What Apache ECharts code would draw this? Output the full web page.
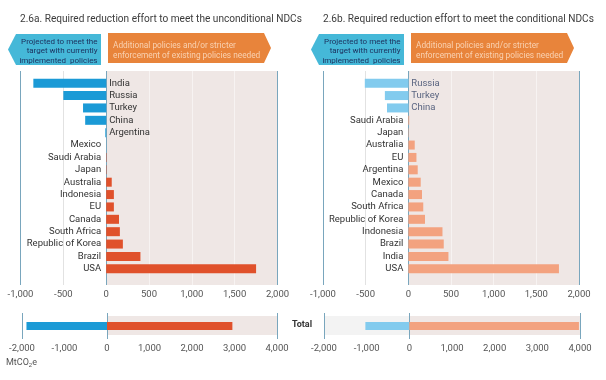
<!DOCTYPE html>
<html><head><meta charset="utf-8">
<script src="https://cdn.jsdelivr.net/npm/echarts@6/dist/echarts.min.js"></script>
<style>html,body{margin:0;padding:0;background:#fff}#c{width:606px;height:380px}</style>
</head><body><div id="c"></div>
<script>
// ---- data ----
const catsUncond = ['India','Russia','Turkey','China','Argentina','Mexico','Saudi Arabia','Japan','Australia','Indonesia','EU','Canada','South Africa','Republic of Korea','Brazil','USA'];
const valsUncond = [-850,-500,-270,-245,-10,0,5,5,65,90,90,150,160,195,400,1750];
const catsCond = ['Russia','Turkey','China','Saudi Arabia','Japan','Australia','EU','Argentina','Mexico','Canada','South Africa','Republic of Korea','Indonesia','Brazil','India','USA'];
const valsCond = [-510,-275,-250,10,5,75,95,110,145,160,175,195,400,415,470,1765];
const totalUncond = {neg: -1895, pos: 2950};
const totalCond = {neg: -1030, pos: 3975};
const mainTicks = {min: -1000, max: 2000, step: 500};
const totalTicks = {min: -2000, max: 4000, step: 1000};

const FONT = 'Roboto';
const fmt = v => v.toLocaleString('en-US');
const chart = echarts.init(document.getElementById('c'), null, {renderer: 'canvas'});

const panels = [
  {left: 20.5, width: 257, tLeft: 22, tWidth: 255, cats: catsUncond, vals: valsUncond, tot: totalUncond,
   neg: '#1b9ad6', pos: '#e0512b', negLabel: '#333', posLabel: '#333', totNegBg: null},
  {left: 323, width: 256, tLeft: 324, tWidth: 256, cats: catsCond, vals: valsCond, tot: totalCond,
   neg: '#82cbee', pos: '#f3a27f', negLabel: '#5a6580', posLabel: '#333', totNegBg: '#f3f3f3'}
];

const grid = [], xAxis = [], yAxis = [], series = [];
const lineBlue = '#79a6bd';
panels.forEach((p, k) => {
  const g0 = grid.length;
  grid.push({left: p.left, width: p.width, top: 71, height: 214});
  grid.push({left: p.left, width: p.width, top: 77, height: 198});
  grid.push({left: p.tLeft, width: p.tWidth, top: 313, height: 26});
  grid.push({left: p.tLeft, width: p.tWidth, top: 313, height: 26});

  const lab = {color: '#555', fontSize: 9.5, fontFamily: FONT, margin: 5, formatter: fmt};
  xAxis.push({gridIndex: g0, type: 'value', min: mainTicks.min, max: mainTicks.max, interval: mainTicks.step,
    axisLine: {show: false}, axisTick: {show: false}, splitLine: {show: false}, axisLabel: lab});
  xAxis.push({gridIndex: g0 + 1, type: 'value', min: mainTicks.min, max: mainTicks.max, show: false, splitLine: {show: false}});
  xAxis.push({gridIndex: g0 + 2, type: 'value', min: totalTicks.min, max: totalTicks.max, interval: totalTicks.step,
    axisLine: {show: false}, axisTick: {show: false}, splitLine: {show: false}, axisLabel: lab});
  xAxis.push({gridIndex: g0 + 3, type: 'value', min: totalTicks.min, max: totalTicks.max, show: false, splitLine: {show: false}});

  yAxis.push({gridIndex: g0, type: 'value', min: 0, max: 1, show: false});
  yAxis.push({gridIndex: g0 + 1, type: 'category', data: p.cats, inverse: true, show: false});
  yAxis.push({gridIndex: g0 + 2, type: 'value', min: 0, max: 1, show: false});
  yAxis.push({gridIndex: g0 + 3, type: 'category', data: ['Total'], show: false});

  const ax = xAxis.length - 4, ay = yAxis.length - 4;
  const vline = (x, c) => ({xAxis: x, lineStyle: {color: c, width: 1, type: 'solid'}});
  series.push({type: 'line', xAxisIndex: ax, yAxisIndex: ay, data: [], silent: true, z: 1,
    markArea: {silent: true, z: 1, itemStyle: {color: '#efe7e5'}, data: [[{xAxis: 0, yAxis: 0}, {xAxis: mainTicks.max, yAxis: 1}]]},
    markLine: {silent: true, z: 2, symbol: 'none', label: {show: false}, animation: false,
      data: [vline(-500, '#e2e2e2'), vline(500, '#f7f3f2'), vline(1000, '#f7f3f2'), vline(1500, '#f7f3f2'),
             vline(mainTicks.min, lineBlue), vline(0, lineBlue), vline(mainTicks.max, lineBlue)]}
  });
  series.push({type: 'bar', xAxisIndex: ax + 1, yAxisIndex: ay + 1, barWidth: 9, z: 5,
    data: p.vals.map(v => ({value: v,
      itemStyle: {color: v < 0 ? p.neg : p.pos},
      label: {position: v < 0 ? 'right' : 'left', distance: v < 0 ? 3 : 5, color: v < 0 ? p.negLabel : p.posLabel}})),
    label: {show: true, formatter: '{b}', fontSize: 9.5, fontFamily: FONT}
  });
  const totAreas = [[{xAxis: 0, yAxis: 0.154}, {xAxis: totalTicks.max, yAxis: 0.885}]];
  if (p.totNegBg) totAreas.push([{xAxis: totalTicks.min, yAxis: 0.154, itemStyle: {color: p.totNegBg}}, {xAxis: 0, yAxis: 0.885}]);
  series.push({type: 'line', xAxisIndex: ax + 2, yAxisIndex: ay + 2, data: [], silent: true, z: 1,
    markArea: {silent: true, z: 1, itemStyle: {color: '#efe7e5'}, data: totAreas},
    markLine: {silent: true, z: 2, symbol: 'none', label: {show: false}, animation: false,
      data: [vline(totalTicks.min, lineBlue), vline(0, lineBlue), vline(totalTicks.max, lineBlue)]}
  });
  series.push({type: 'bar', xAxisIndex: ax + 3, yAxisIndex: ay + 3, stack: 't' + k, barWidth: 8, z: 5,
    itemStyle: {color: p.neg}, data: [p.tot.neg]});
  series.push({type: 'bar', xAxisIndex: ax + 3, yAxisIndex: ay + 3, stack: 't' + k, barWidth: 8, z: 5,
    itemStyle: {color: p.pos}, data: [p.tot.pos]});
});

function header(x0, title) {
  return [
    {type: 'text', left: x0 + 20, top: 14, style: {text: title, fontSize: 10.1, fontFamily: FONT, fill: '#3c3c3c'}},
    {type: 'polygon', shape: {points: [[x0 + 8, 49.5], [x0 + 16, 34], [x0 + 101, 34], [x0 + 101, 65], [x0 + 16, 65]]},
      style: {fill: '#45b8d8'}},
    {type: 'text', x: x0 + 97.5, y: 37.5, style: {text: 'Projected to meet the\ntarget with currently\nimplemented  policies',
      align: 'right', fontSize: 8, lineHeight: 9.3, fontFamily: FONT, fill: '#1c2f5c'}},
    {type: 'polygon', shape: {points: [[x0 + 108, 33], [x0 + 264, 33], [x0 + 271, 48], [x0 + 264, 63], [x0 + 108, 63]]},
      style: {fill: '#e8843b'}},
    {type: 'text', x: x0 + 113, y: 40.5, style: {text: 'Additional policies and/or stricter\nenforcement of existing policies needed',
      fontSize: 8.3, lineHeight: 10, fontFamily: FONT, fill: '#f9d2b2'}}
  ];
}

chart.setOption({
  animation: false,
  grid, xAxis, yAxis, series,
  graphic: [
    ...header(0, '2.6a. Required reduction effort to meet the unconditional NDCs'),
    ...header(303, '2.6b. Required reduction effort to meet the conditional NDCs'),
    {type: 'text', x: 302, y: 325, style: {text: 'Total', align: 'center', verticalAlign: 'middle', fontSize: 9, fontWeight: 'bold', fontFamily: FONT, fill: '#333'}},
    {type: 'text', x: 6, y: 357, style: {text: 'MtCO{s|2}e', fontSize: 9, fontFamily: FONT, fill: '#555',
      rich: {s: {fontSize: 6, padding: [5, 0, 0, 0], fill: '#555'}}}}
  ]
});
</script></body></html>
